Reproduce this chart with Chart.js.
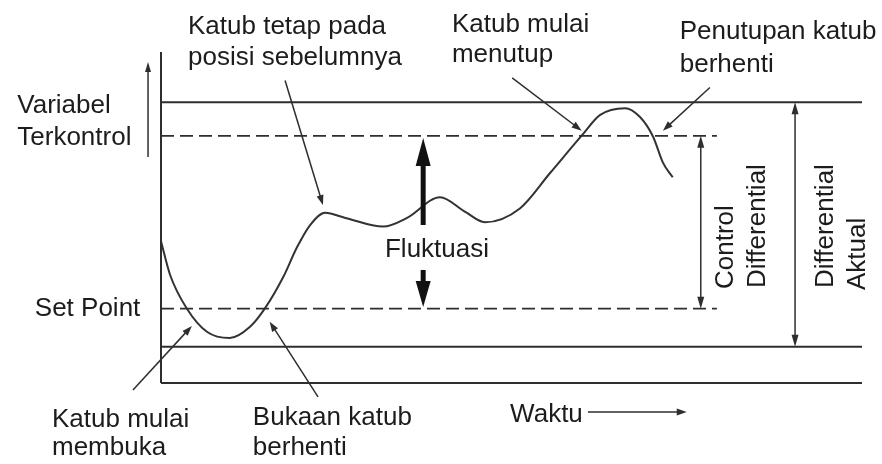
<!DOCTYPE html>
<html>
<head>
<meta charset="utf-8">
<title>Kontrol dua posisi</title>
<script src="https://cdn.jsdelivr.net/npm/chart.js@4.4.1/dist/chart.umd.min.js"></script>
<style>
  html, body { margin: 0; padding: 0; background: #fff; }
  #wrap { width: 882px; height: 464px; }
</style>
</head>
<body>
<div id="wrap"><canvas id="diagram" width="882" height="464"></canvas></div>
<script>
// time runs 0..100, the controlled variable is measured from the set point (0)
const timeRange = [0, 100];
const valueRange = [-4.3, 14.85];

const setPoint = 0;
const controlHigh = 10;
const actualHigh = 11.95;
const actualLow = -2.2;
const dashedEnd = 79.3;

// response of the controlled variable
const curveTime  = [0, 1.3, 3.7, 6.6, 9.8, 12.7, 14.8, 17.4, 19.4, 21.3, 23.4, 26.3, 31.7, 35.1, 39.8, 43.4, 46.2, 51.2, 55.5, 60.1, 62.6, 66.2, 68.3, 70.2, 71.6, 73.0];
const curveValue = [3.9, 1.95, 0.0, -1.35, -1.7, -1.05, 0.0, 1.8, 3.55, 4.85, 5.55, 5.25, 4.75, 5.25, 6.45, 5.6, 5.0, 5.8, 7.85, 10.05, 11.2, 11.6, 11.1, 9.95, 8.45, 7.6];

// callouts: [from, to] in time/value units, arrow head at "to"
const pointers = [
  [[17.7, 13.2], [23.1, 6.0]],
  [[50.1, 13.35], [60.0, 10.3]],
  [[78.3, 12.8], [71.6, 10.3]],
  [[-4.0, -4.7], [4.4, -1.0]],
  [[22.4, -5.1], [15.5, -0.75]]
];

const notes = [
  { lines: ["Katub tetap pada", "posisi sebelumnya"], at: [3.85, 15.89], gap: 31 },
  { lines: ["Katub mulai", "menutup"], at: [41.5, 16.0], gap: 30 },
  { lines: ["Penutupan katub", "berhenti"], at: [74.0, 15.6], gap: 33 },
  { lines: ["Variabel", "Terkontrol"], at: [-20.5, 11.32], gap: 32 },
  { lines: ["Set Point"], at: [-18.0, -0.42], gap: 30 },
  { lines: ["Katub mulai", "membuka"], at: [-15.55, -6.85], gap: 28 },
  { lines: ["Bukaan katub", "berhenti"], at: [13.1, -6.73], gap: 30 },
  { lines: ["Waktu"], at: [49.8, -6.56], gap: 30 },
  { lines: ["Fluktuasi"], at: [31.95, 2.99], gap: 30 }
];

const sideNotes = [
  { text: "Control", at: [81.6, 1.14] },
  { text: "Differential", at: [86.16, 1.2] },
  { text: "Differential", at: [95.86, 1.2] },
  { text: "Aktual", at: [100.43, 1.08] }
];

const controlArrowTime = 77.0;
const actualArrowTime = 90.45;
const fluctTime = 37.4;
const fluctUp = [4.84, 9.87];
const fluctDown = [2.24, 0.1];
const valueArrow = { time: -1.85, from: 8.77, to: 14.27 };
const timeArrow = { value: -5.98, from: 60.9, to: 75.0 };

const ink = '#2e2e2e';
const textInk = '#1c1c1c';
const font = '26px "Liberation Sans", Arial, sans-serif';

function seg(x0, y0, x1, y1) {
  return [{ x: x0, y: y0 }, { x: x1, y: y1 }];
}

function lineSet(data, dash, width) {
  return {
    data,
    showLine: true,
    borderColor: ink,
    borderWidth: width || 2,
    borderDash: dash || [],
    pointRadius: 0,
    clip: false
  };
}

function head(ctx, x0, y0, x1, y1, len, half) {
  const a = Math.atan2(y1 - y0, x1 - x0);
  const c = Math.cos(a), s = Math.sin(a);
  ctx.beginPath();
  ctx.moveTo(x1, y1);
  ctx.lineTo(x1 - len * c + half * s, y1 - len * s - half * c);
  ctx.lineTo(x1 - len * c - half * s, y1 - len * s + half * c);
  ctx.closePath();
  ctx.fill();
}

function arrow(ctx, x0, y0, x1, y1, width, len, half) {
  const a = Math.atan2(y1 - y0, x1 - x0);
  ctx.lineWidth = width;
  ctx.beginPath();
  ctx.moveTo(x0, y0);
  ctx.lineTo(x1 - Math.cos(a) * len * 0.6, y1 - Math.sin(a) * len * 0.6);
  ctx.stroke();
  head(ctx, x0, y0, x1, y1, len, half);
}

const sketch = {
  id: 'sketch',
  afterDatasetsDraw(chart) {
    const { ctx, scales: { x, y } } = chart;
    const X = (t) => x.getPixelForValue(t);
    const Y = (v) => y.getPixelForValue(v);

    ctx.save();
    ctx.strokeStyle = ink;
    ctx.fillStyle = ink;
    ctx.lineCap = 'butt';

    // callout leaders
    pointers.forEach(([a, b]) => {
      arrow(ctx, X(a[0]), Y(a[1]), X(b[0]), Y(b[1]), 1.5, 10, 3.5);
    });

    // control and actual differential spans
    [[controlArrowTime, setPoint, controlHigh], [actualArrowTime, actualLow, actualHigh]].forEach(([t, lo, hi]) => {
      const px = X(t);
      ctx.lineWidth = 1.5;
      ctx.beginPath();
      ctx.moveTo(px, Y(lo) - 6);
      ctx.lineTo(px, Y(hi) + 6);
      ctx.stroke();
      head(ctx, px, Y(lo) - 20, px, Y(hi), 12, 3.5);
      head(ctx, px, Y(hi) + 20, px, Y(lo), 12, 3.5);
    });

    // fluctuation arrows
    const fx = X(fluctTime);
    ctx.fillStyle = '#111';
    ctx.strokeStyle = '#111';
    arrow(ctx, fx, Y(fluctUp[0]), fx, Y(fluctUp[1]), 5, 28, 7.5);
    arrow(ctx, fx, Y(fluctDown[0]), fx, Y(fluctDown[1]), 5, 26, 7.5);

    // axis direction hints
    ctx.fillStyle = ink;
    ctx.strokeStyle = ink;
    arrow(ctx, X(valueArrow.time), Y(valueArrow.from), X(valueArrow.time), Y(valueArrow.to), 1.5, 10, 3);
    arrow(ctx, X(timeArrow.from), Y(timeArrow.value), X(timeArrow.to), Y(timeArrow.value), 1.5, 10, 3.5);

    // text
    ctx.fillStyle = textInk;
    ctx.font = font;
    ctx.textAlign = 'left';
    ctx.textBaseline = 'alphabetic';
    notes.forEach((n) => {
      n.lines.forEach((line, i) => {
        ctx.fillText(line, X(n.at[0]), Y(n.at[1]) + i * n.gap);
      });
    });
    sideNotes.forEach((n) => {
      ctx.save();
      ctx.translate(X(n.at[0]), Y(n.at[1]));
      ctx.rotate(-Math.PI / 2);
      ctx.fillText(n.text, 0, 0);
      ctx.restore();
    });
    ctx.restore();
  }
};

new Chart(document.getElementById('diagram'), {
  type: 'scatter',
  data: {
    datasets: [
      // axes
      lineSet(seg(0, valueRange[0], 0, valueRange[1])),
      lineSet(seg(timeRange[0], valueRange[0], timeRange[1], valueRange[0])),
      // limits
      lineSet(seg(timeRange[0], actualHigh, timeRange[1], actualHigh)),
      lineSet(seg(timeRange[0], actualLow, timeRange[1], actualLow)),
      lineSet(seg(timeRange[0], controlHigh, dashedEnd, controlHigh), [13, 6], 1.8),
      lineSet(seg(timeRange[0], setPoint, dashedEnd, setPoint), [13, 6], 1.8),
      // controlled variable
      {
        data: curveTime.map((t, i) => ({ x: t, y: curveValue[i] })),
        showLine: true,
        borderColor: '#333',
        borderWidth: 2,
        pointRadius: 0,
        cubicInterpolationMode: 'monotone',
        clip: false
      }
    ]
  },
  options: {
    responsive: false,
    animation: false,
    events: [],
    layout: { padding: { left: 161, right: 20, top: 52, bottom: 81 } },
    plugins: { legend: { display: false }, tooltip: { enabled: false } },
    scales: {
      x: { type: 'linear', display: false, min: timeRange[0], max: timeRange[1] },
      y: { type: 'linear', display: false, min: valueRange[0], max: valueRange[1] }
    }
  },
  plugins: [sketch]
});
</script>
</body>
</html>
